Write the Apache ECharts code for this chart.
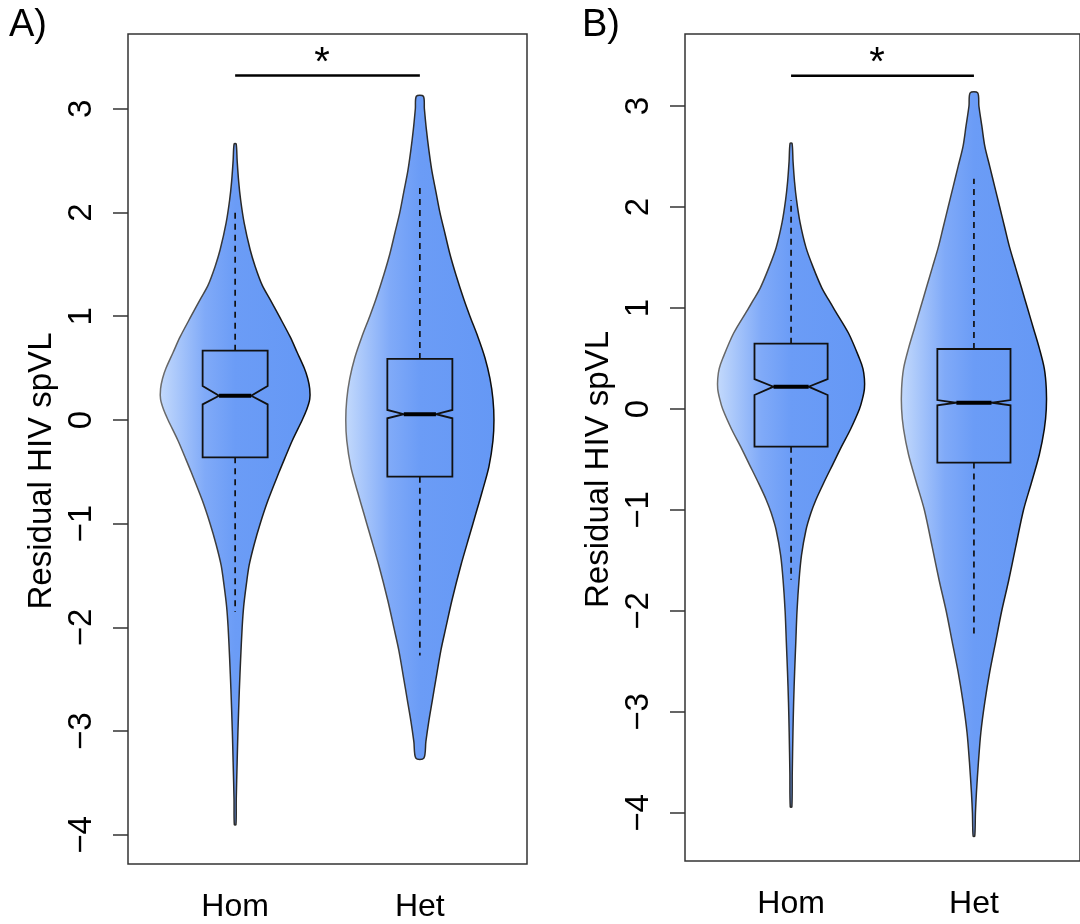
<!DOCTYPE html>
<html>
<head>
<meta charset="utf-8">
<title>Residual HIV spVL violin plots</title>
<script src="https://cdn.jsdelivr.net/npm/echarts@6/dist/echarts.min.js"></script>
<style>
  html, body { margin: 0; padding: 0; background: #fff; }
  #chart { width: 1080px; height: 924px; }
</style>
</head>
<body>
<div id="chart"></div>
<script>
// groups on the x axis
const groups = ["Hom", "Het"];
const yTicks = [-4, -3, -2, -1, 0, 1, 2, 3];

// violin outlines: value levels and relative density (half width)
// panel A
const homA_levels = [2.66, 2.5, 2.3, 2.12, 1.9, 1.64, 1.48, 1.3, 1.16, 1.0, 0.8, 0.65, 0.5, 0.4, 0.3, 0.2, 0.1, 0.0, -0.2, -0.36, -0.5, -0.77, -1.0, -1.2, -1.4, -1.6, -1.8, -2.0, -2.3, -2.6, -3.0, -3.3, -3.66, -3.9];
const homA_dens   = [1, 2, 3.5, 5.5, 9, 15, 20, 27, 35, 44, 55, 62, 69, 72.5, 74.5, 74.5, 71.5, 67, 57, 50, 44, 33, 25, 19, 14, 11, 8.5, 7, 5.5, 4.2, 2.8, 2, 1.1, 0.8];
const hetA_levels = [3.12, 3.0, 2.8, 2.6, 2.4, 2.2, 2.0, 1.8, 1.6, 1.4, 1.16, 1.0, 0.8, 0.6, 0.4, 0.2, 0.0, -0.2, -0.45, -0.7, -0.9, -1.1, -1.4, -1.74, -2.0, -2.22, -2.5, -2.7, -2.9, -3.1, -3.26];
const hetA_dens   = [3.5, 4.5, 6.5, 9, 12, 16, 20, 25, 30, 36, 44, 50, 58, 65, 70, 73, 74, 73, 69, 62, 56, 50, 41, 32, 26, 21, 16, 12.5, 9, 6, 4];
// panel B
const homB_levels = [2.63, 2.45, 2.25, 2.07, 1.85, 1.6, 1.41, 1.2, 1.08, 0.98, 0.75, 0.5, 0.4, 0.3, 0.2, 0.1, 0.0, -0.2, -0.37, -0.55, -0.73, -0.9, -1.03, -1.2, -1.45, -1.7, -2.0, -2.3, -2.6, -2.9, -3.2, -3.6, -3.94];
const homB_dens   = [1, 2, 3.5, 5.5, 9, 15, 22, 31, 38, 44, 58, 69, 72.5, 74, 74, 72, 69, 60, 51, 42, 33, 25, 20, 15, 10.5, 8, 6, 4.8, 3.6, 2.6, 1.9, 1.2, 0.8];
const hetB_levels = [3.13, 3.0, 2.8, 2.6, 2.4, 2.2, 2.0, 1.8, 1.6, 1.4, 1.2, 1.0, 0.8, 0.6, 0.4, 0.2, 0.0, -0.2, -0.45, -0.73, -1.0, -1.37, -1.7, -2.0, -2.3, -2.6, -2.9, -3.2, -3.5, -3.8, -4.0, -4.23];
const hetB_dens   = [3.8, 5, 8, 11, 16, 21, 26, 31, 36, 42, 48, 54, 60, 66, 71, 73, 73, 71, 66, 58, 50, 42, 35, 28, 22, 16, 11, 7, 4.5, 2.5, 1.5, 0.8];

// notched box plots: [Hom, Het]
const boxA_q1 = [-0.36, -0.547];
const boxA_median = [0.234, 0.055];
const boxA_q3 = [0.668, 0.588];
const boxA_notchLo = [0.15, 0.016];
const boxA_notchHi = [0.328, 0.096];
const boxA_whiskerLo = [-1.85, -2.27];
const boxA_whiskerHi = [2.04, 2.285];

const boxB_q1 = [-0.373, -0.53];
const boxB_median = [0.221, 0.062];
const boxB_q3 = [0.647, 0.594];
const boxB_notchLo = [0.139, 0.037];
const boxB_notchHi = [0.297, 0.089];
const boxB_whiskerLo = [-1.69, -2.24];
const boxB_whiskerHi = [2.07, 2.28];

// significance bar between Hom and Het
const sigBarY = [3.32, 3.30];
const sigStarY = [3.49, 3.48];
const sigLabel = "*";

let chart = echarts.init(document.getElementById("chart"));

const FONT = "Liberation Sans, Arial, Helvetica, sans-serif";
const densScale = 1 / 184.5;   // density units -> x axis units

function violinFill() {
  return {
    type: "linear", x: 0, y: 0, x2: 1, y2: 0,
    colorStops: [
      { offset: 0, color: "#c4dafc" },
      { offset: 0.3, color: "#80aaf8" },
      { offset: 0.5, color: "#6b9cf6" },
      { offset: 1, color: "#6598f5" }
    ]
  };
}
function violinStroke() {
  return {
    type: "linear", x: 0, y: 0, x2: 1, y2: 0,
    colorStops: [
      { offset: 0, color: "#6f6f6f" },
      { offset: 0.5, color: "#2a2a2a" },
      { offset: 1, color: "#0a0a0a" }
    ]
  };
}

function violinSeries(idx, profiles) {
  return {
    type: "custom",
    xAxisIndex: idx,
    yAxisIndex: idx,
    data: [[1], [2]],
    renderItem: function (params, api) {
      let cx = api.value(0);
      let p = profiles[params.dataIndex];
      let right = [], left = [];
      for (let i = 0; i < p.levels.length; i++) {
        right.push(api.coord([cx + p.dens[i] * densScale, p.levels[i]]));
        left.push(api.coord([cx - p.dens[i] * densScale, p.levels[i]]));
      }
      return {
        type: "polygon",
        shape: { points: right.concat(left.reverse()), smooth: 0.3 },
        style: { fill: violinFill(), stroke: violinStroke(), lineWidth: 1.5 }
      };
    }
  };
}

function boxSeries(idx, box, boxHalf, notchHalf) {
  return {
    type: "custom",
    xAxisIndex: idx,
    yAxisIndex: idx,
    data: [[1], [2]],
    z: 3,
    renderItem: function (params, api) {
      let i = params.dataIndex;
      let x = api.value(0);
      let c = function (dx, y) { return api.coord([x + dx, y]); };
      let outline = [
        c(-boxHalf, box.q3[i]), c(boxHalf, box.q3[i]), c(boxHalf, box.notchHi[i]),
        c(notchHalf, box.median[i]), c(boxHalf, box.notchLo[i]), c(boxHalf, box.q1[i]),
        c(-boxHalf, box.q1[i]), c(-boxHalf, box.notchLo[i]), c(-notchHalf, box.median[i]),
        c(-boxHalf, box.notchHi[i])
      ];
      let top = c(0, box.q3[i]), hi = c(0, box.whiskerHi[i]);
      let bot = c(0, box.q1[i]), lo = c(0, box.whiskerLo[i]);
      let m1 = c(-notchHalf, box.median[i]), m2 = c(notchHalf, box.median[i]);
      return {
        type: "group",
        children: [
          { type: "line", shape: { x1: top[0], y1: top[1], x2: hi[0], y2: hi[1] },
            style: { stroke: "#111", lineWidth: 1.7, lineDash: [6, 5] } },
          { type: "line", shape: { x1: bot[0], y1: bot[1], x2: lo[0], y2: lo[1] },
            style: { stroke: "#111", lineWidth: 1.7, lineDash: [6, 5] } },
          { type: "polygon", shape: { points: outline },
            style: { fill: "none", stroke: "#111", lineWidth: 1.8 } },
          { type: "line", shape: { x1: m1[0], y1: m1[1], x2: m2[0], y2: m2[1] },
            style: { stroke: "#000", lineWidth: 4 } }
        ]
      };
    }
  };
}

function sigSeries(idx) {
  return {
    type: "custom",
    xAxisIndex: idx,
    yAxisIndex: idx,
    data: [[1, 2, sigBarY[idx], sigStarY[idx]]],
    z: 4,
    clip: false,
    renderItem: function (params, api) {
      let a = api.coord([api.value(0), api.value(2)]);
      let b = api.coord([api.value(1), api.value(2)]);
      let s = api.coord([(api.value(0) + api.value(1)) / 2 - 0.03, api.value(3)]);
      return {
        type: "group",
        children: [
          { type: "line", shape: { x1: a[0], y1: a[1], x2: b[0], y2: b[1] },
            style: { stroke: "#000", lineWidth: 2.5 } },
          { type: "text", x: s[0], y: s[1] + 6,
            style: { text: sigLabel, font: "40px " + FONT, fill: "#000", align: "center", verticalAlign: "middle" } }
        ]
      };
    }
  };
}

function xAxisFor(idx) {
  return {
    type: "value",
    gridIndex: idx,
    min: 0.42,
    max: 2.58,
    axisLine: { show: false },
    splitLine: { show: false },
    axisTick: { show: true, length: 15, customValues: [1, 2], lineStyle: { color: "#333", width: 1.5 } },
    axisLabel: {
      customValues: [1, 2],
      margin: 27,
      fontSize: 32,
      fontFamily: FONT,
      color: "#000",
      formatter: function (v) { return groups[Math.round(v) - 1]; }
    }
  };
}

function yAxisFor(idx, min, max) {
  return {
    type: "value",
    gridIndex: idx,
    min: min,
    max: max,
    name: "Residual HIV spVL",
    nameLocation: "middle",
    nameRotate: 90,
    nameGap: 70,
    nameTextStyle: { fontSize: 33, fontFamily: FONT, color: "#000", padding: [0, 44, 0, 0] },
    axisLine: { show: false },
    splitLine: { show: false },
    axisTick: { show: true, length: 15, customValues: yTicks, lineStyle: { color: "#333", width: 1.5 } },
    axisLabel: {
      customValues: yTicks,
      rotate: 90,
      margin: 30,
      fontSize: 33,
      fontFamily: FONT,
      color: "#000",
      formatter: function (v) { return String(v).replace("-", "\u2212"); }
    }
  };
}

let option = {
  backgroundColor: "#fff",
  animation: false,
  title: [
    { text: "A)", left: 4, top: 2, textStyle: { fontSize: 38, fontWeight: "normal", fontFamily: FONT, color: "#000" } },
    { text: "B)", left: 577, top: 2, textStyle: { fontSize: 38, fontWeight: "normal", fontFamily: FONT, color: "#000" } }
  ],
  grid: [
    { left: 128, top: 34, width: 399, height: 830, show: true, borderColor: "#333", borderWidth: 1.5, backgroundColor: "transparent" },
    { left: 685, top: 34, width: 399, height: 827, show: true, borderColor: "#333", borderWidth: 1.5, backgroundColor: "transparent" }
  ],
  xAxis: [xAxisFor(0), xAxisFor(1)],
  yAxis: [yAxisFor(0, -4.28, 3.72), yAxisFor(1, -4.475, 3.713)],
  series: [
    violinSeries(0, [{ levels: homA_levels, dens: homA_dens }, { levels: hetA_levels, dens: hetA_dens }]),
    violinSeries(1, [{ levels: homB_levels, dens: homB_dens }, { levels: hetB_levels, dens: hetB_dens }]),
    boxSeries(0, { q1: boxA_q1, median: boxA_median, q3: boxA_q3, notchLo: boxA_notchLo, notchHi: boxA_notchHi,
      whiskerLo: boxA_whiskerLo, whiskerHi: boxA_whiskerHi }, 0.176, 0.087),
    boxSeries(1, { q1: boxB_q1, median: boxB_median, q3: boxB_q3, notchLo: boxB_notchLo, notchHi: boxB_notchHi,
      whiskerLo: boxB_whiskerLo, whiskerHi: boxB_whiskerHi }, 0.2, 0.096),
    sigSeries(0),
    sigSeries(1)
  ]
};

chart.setOption(option);
</script>
</body>
</html>
